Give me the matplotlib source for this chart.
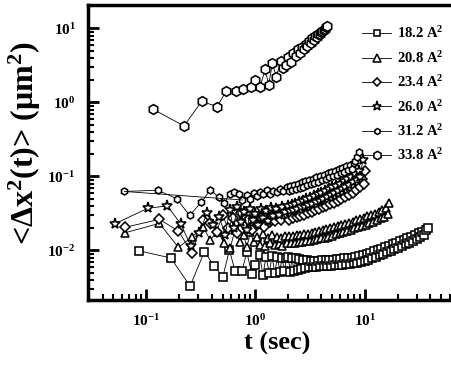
import numpy as np
import matplotlib
matplotlib.use('Agg')
import matplotlib.pyplot as plt
from matplotlib.ticker import LogLocator, NullFormatter

plt.rcParams['font.family'] = ['Liberation Serif', 'DejaVu Serif']
plt.rcParams['font.weight'] = 'bold'
plt.rcParams['mathtext.fontset'] = 'custom'
plt.rcParams['mathtext.rm'] = 'Liberation Serif:bold'
plt.rcParams['mathtext.bf'] = 'Liberation Serif:bold'
plt.rcParams['mathtext.it'] = 'Liberation Serif:bold:italic'
plt.rcParams['mathtext.default'] = 'bf'

# 18.2 A^2 (squares)
t182 = ([0.085, 0.168, 0.252, 0.341, 0.418, 0.503, 0.578, 0.652, 0.75, 0.834,
         0.926, 1.0, 1.09, 1.17, 1.25, 1.34, 1.42, 1.5, 1.59, 1.67, 1.75, 1.84, 1.92]
        + [2.0, 2.08, 2.16, 2.25, 2.34, 2.43, 2.53, 2.63, 2.74, 2.85,
           2.96, 3.08, 3.2, 3.33, 3.46, 3.6, 3.75, 3.9, 4.05, 4.2,
           4.4, 4.55, 4.75, 4.95, 5.15, 5.35, 5.55, 5.8, 6.0, 6.25,
           6.5, 6.75, 7.0, 7.3, 7.6, 7.9, 8.2, 8.55, 8.9, 9.25,
           9.6, 10.0, 10.4, 10.8, 11.2, 11.7, 12.2, 12.7, 13.2, 13.7,
           14.2, 14.8, 15.4, 16.0, 16.6, 17.3, 18.0, 18.7, 19.5, 20.3,
           21.1, 21.9, 22.8, 23.7, 24.6, 25.6, 26.6, 27.7, 28.8, 30.0,
           31.2, 32.4, 33.7, 35.0, 36.4, 37.6])
y182 = ([0.0099, 0.0079, 0.0033, 0.0096, 0.0062, 0.0044, 0.0101, 0.0052, 0.0052, 0.0094,
         0.0048, 0.0063, 0.0087, 0.0047, 0.0081, 0.0050, 0.0085, 0.0049, 0.0082, 0.0051,
         0.0080, 0.0052, 0.0079]
        + [0.0082, 0.0051, 0.0080, 0.0053, 0.0078, 0.0054, 0.0077, 0.0056, 0.0075, 0.0057,
           0.0074, 0.0059, 0.0073, 0.0060, 0.0073, 0.0060, 0.0073, 0.0061, 0.0074, 0.0061,
           0.0074, 0.0062, 0.0075, 0.0062, 0.0075, 0.0063, 0.0076, 0.0063, 0.0077, 0.0064,
           0.0078, 0.0065, 0.0079, 0.0066, 0.0080, 0.0067, 0.0082, 0.0068, 0.0084, 0.0070,
           0.0086, 0.0072, 0.0089, 0.0075, 0.0093, 0.0078, 0.0097, 0.0082, 0.0101, 0.0086,
           0.0105, 0.0090, 0.0110, 0.0094, 0.0115, 0.0099, 0.0121, 0.0104, 0.0127, 0.0109,
           0.0133, 0.0115, 0.0139, 0.0121, 0.0146, 0.0127, 0.0153, 0.0134, 0.0161, 0.0142,
           0.0170, 0.0151, 0.0180, 0.0161, 0.0190, 0.0198])

# 20.8 A^2 (triangles)
t208 = ([0.064, 0.132, 0.197, 0.26, 0.33, 0.385, 0.45, 0.52, 0.587, 0.65,
         0.72, 0.78, 0.834, 0.9, 0.97, 1.04, 1.1, 1.17, 1.23, 1.3,
         1.36, 1.43, 1.5, 1.56, 1.63, 1.7, 1.76]
        + [1.87, 1.95, 2.03, 2.11, 2.2, 2.29, 2.38, 2.48, 2.58, 2.68,
           2.79, 2.9, 3.02, 3.14, 3.27, 3.4, 3.54, 3.68, 3.83, 3.98,
           4.14, 4.3, 4.47, 4.65, 4.84, 5.03, 5.23, 5.44, 5.66, 5.89,
           6.12, 6.37, 6.62, 6.89, 7.16, 7.45, 7.75, 8.06, 8.38, 8.72,
           9.07, 9.43, 9.8, 10.2, 10.6, 11.0, 11.5, 11.9, 12.4, 12.9,
           13.4, 14.0, 14.5, 15.1, 15.7, 16.3, 16.8])
y208 = ([0.0173, 0.0232, 0.0110, 0.0150, 0.0210, 0.0138, 0.0180, 0.0125, 0.0107, 0.0190,
         0.0130, 0.0160, 0.0112, 0.0175, 0.0128, 0.0150, 0.0120, 0.0165, 0.0114, 0.0145,
         0.0125, 0.0160, 0.0118, 0.0150, 0.0122, 0.0145, 0.0114]
        + [0.0158, 0.0124, 0.0157, 0.0125, 0.0158, 0.0126, 0.0160, 0.0128, 0.0162, 0.0130,
           0.0165, 0.0132, 0.0168, 0.0135, 0.0172, 0.0138, 0.0176, 0.0141, 0.0181, 0.0145,
           0.0186, 0.0149, 0.0192, 0.0154, 0.0199, 0.0159, 0.0205, 0.0165, 0.0212, 0.0171,
           0.0220, 0.0177, 0.0228, 0.0184, 0.0236, 0.0191, 0.0245, 0.0198, 0.0255, 0.0206,
           0.0265, 0.0214, 0.0276, 0.0223, 0.0288, 0.0233, 0.0300, 0.0244, 0.0314, 0.0256,
           0.0330, 0.0270, 0.0348, 0.0287, 0.0370, 0.0310, 0.0440])

# 23.4 A^2 (diamonds)
t234 = ([0.064, 0.132, 0.197, 0.262, 0.33, 0.385, 0.44, 0.5, 0.56, 0.62,
         0.68, 0.74, 0.8, 0.86, 0.93, 1.0, 1.06, 1.13, 1.2, 1.27,
         1.35, 1.43, 1.52, 1.62, 1.72, 1.83]
        + [1.95, 2.03, 2.11, 2.2, 2.29, 2.38, 2.48, 2.58, 2.68, 2.79,
           2.9, 3.02, 3.14, 3.27, 3.4, 3.54, 3.68, 3.83, 3.98, 4.14,
           4.3, 4.47, 4.65, 4.84, 5.03, 5.23, 5.44, 5.66, 5.89, 6.12,
           6.37, 6.62, 6.89, 7.16, 7.45, 7.75, 8.06, 8.38, 8.72, 9.07,
           9.43, 9.8, 10.1])
y234 = ([0.0205, 0.0263, 0.0183, 0.0093, 0.026, 0.0233, 0.0178, 0.030, 0.020, 0.027,
         0.017, 0.032, 0.022, 0.026, 0.019, 0.029, 0.023, 0.027, 0.021, 0.028,
         0.024, 0.029, 0.025, 0.030, 0.026, 0.031]
        + [0.031, 0.026, 0.032, 0.027, 0.034, 0.028, 0.035, 0.029, 0.036, 0.030,
           0.038, 0.032, 0.039, 0.033, 0.041, 0.035, 0.043, 0.036, 0.045, 0.038,
           0.047, 0.040, 0.050, 0.042, 0.052, 0.044, 0.055, 0.046, 0.058, 0.049,
           0.062, 0.052, 0.066, 0.056, 0.071, 0.060, 0.077, 0.065, 0.084, 0.071,
           0.092, 0.080, 0.120])

# 26.0 A^2 (stars)
t260 = ([0.052, 0.103, 0.156, 0.208, 0.256, 0.307, 0.359, 0.41, 0.465, 0.528,
         0.58, 0.63, 0.68, 0.73, 0.79, 0.84, 0.9, 0.95, 1.0, 1.06,
         1.12, 1.18, 1.24, 1.3, 1.38, 1.46, 1.55, 1.65, 1.75, 1.86]
        + [1.98, 2.06, 2.14, 2.23, 2.32, 2.41, 2.51, 2.61, 2.71, 2.82,
           2.93, 3.05, 3.17, 3.3, 3.43, 3.57, 3.71, 3.86, 4.01, 4.17,
           4.34, 4.51, 4.69, 4.88, 5.07, 5.27, 5.48, 5.7, 5.93, 6.17,
           6.42, 6.67, 6.94, 7.22, 7.5, 7.8, 8.12, 8.44, 8.78, 9.13, 9.6])
y260 = ([0.023, 0.037, 0.040, 0.0226, 0.0114, 0.0173, 0.0316, 0.022, 0.0285, 0.0162,
         0.035, 0.020, 0.038, 0.024, 0.033, 0.019, 0.036, 0.026, 0.031, 0.022,
         0.036, 0.027, 0.034, 0.025, 0.037, 0.029, 0.036, 0.030, 0.038, 0.033]
        + [0.040, 0.034, 0.041, 0.035, 0.043, 0.036, 0.045, 0.038, 0.047, 0.039,
           0.049, 0.041, 0.051, 0.043, 0.054, 0.045, 0.057, 0.047, 0.060, 0.050,
           0.063, 0.053, 0.067, 0.056, 0.071, 0.059, 0.075, 0.063, 0.080, 0.067,
           0.086, 0.072, 0.092, 0.077, 0.099, 0.083, 0.108, 0.090, 0.118, 0.099, 0.168])

# 31.2 A^2 (small hexagons)
t312 = ([0.063, 0.128, 0.19, 0.25, 0.32, 0.385, 0.46, 0.52, 0.58, 0.63,
         0.7, 0.76, 0.83, 0.9, 0.96, 1.03, 1.1, 1.18, 1.27, 1.36,
         1.46, 1.57, 1.68, 1.8]
        + [1.93, 2.01, 2.09, 2.17, 2.26, 2.35, 2.44, 2.54, 2.64, 2.75,
           2.86, 2.97, 3.09, 3.21, 3.34, 3.47, 3.61, 3.75, 3.9, 4.06,
           4.22, 4.39, 4.57, 4.75, 4.94, 5.14, 5.34, 5.56, 5.78, 6.01,
           6.25, 6.5, 6.76, 7.03, 7.31, 7.6, 7.9, 8.22, 8.55, 8.8])
y312 = ([0.0626, 0.065, 0.050, 0.0297, 0.045, 0.065, 0.053, 0.044, 0.058, 0.062,
         0.058, 0.048, 0.056, 0.050, 0.059, 0.055, 0.061, 0.057, 0.065, 0.058,
         0.064, 0.062, 0.067, 0.064]
        + [0.073, 0.064, 0.075, 0.066, 0.077, 0.068, 0.080, 0.070, 0.083, 0.073,
           0.086, 0.076, 0.089, 0.079, 0.093, 0.082, 0.097, 0.085, 0.101, 0.089,
           0.105, 0.093, 0.110, 0.097, 0.115, 0.101, 0.120, 0.106, 0.125, 0.110,
           0.131, 0.115, 0.137, 0.121, 0.144, 0.127, 0.150, 0.160, 0.185, 0.212])

# 33.8 A^2 (large hexagons)
t338 = [0.115, 0.222, 0.323, 0.444, 0.54, 0.665, 0.776, 0.914, 1.0, 1.1, 1.23, 1.32, 1.43,
        1.55, 1.71, 1.78, 1.89, 2.0, 2.11, 2.22, 2.33, 2.44, 2.55, 2.66, 2.77, 2.88, 2.99,
        3.1, 3.21, 3.32, 3.43, 3.54, 3.65, 3.76, 3.87, 3.98, 4.09, 4.2, 4.31, 4.42, 4.49]
y338 = [0.81, 0.48, 1.04, 0.87, 1.42, 1.43, 1.5, 1.62, 2.0, 1.62, 2.8, 1.71, 3.37, 2.22,
        3.65, 2.88, 3.2, 4.1, 3.5, 4.6, 4.2, 5.2, 4.7, 5.6, 5.2, 6.2, 5.8, 6.8, 6.3, 7.3,
        6.9, 7.8, 7.6, 8.5, 8.3, 9.0, 9.2, 9.6, 9.9, 10.3, 10.8]

labels = ['18.2 A$^{2}$', '20.8 A$^{2}$', '23.4 A$^{2}$', '26.0 A$^{2}$',
          '31.2 A$^{2}$', '33.8 A$^{2}$']
series = [(t182, y182, 's', 5.5), (t208, y208, '^', 6.0), (t234, y234, 'D', 4.8),
          (t260, y260, '*', 8.0), (t312, y312, 'h', 5.0), (t338, y338, 'h', 7.0)]

fig = plt.figure(figsize=(4.52, 3.66), dpi=100)
ax = fig.add_axes([0.195, 0.18, 0.885, 0.806])

for (t, y, m, ms), lab in zip(series, labels):
    ax.plot(t, y, color='black', lw=0.6, marker=m, ms=ms, mfc='white', mec='black',
            mew=1.15, label=lab)

# stray connector seen in the original from the first 31.2 point
ax.plot([t312[0], t312[11]], [y312[0], y312[11]], color='black', lw=0.6)

ax.set_xscale('log')
ax.set_yscale('log')
ax.set_xlim(0.0294, 135)
ax.set_ylim(0.00213, 20.6)

ax.xaxis.set_minor_locator(LogLocator(base=10, subs=np.arange(2, 10), numticks=10))
ax.yaxis.set_minor_locator(LogLocator(base=10, subs=np.arange(2, 10), numticks=10))
ax.xaxis.set_minor_formatter(NullFormatter())
ax.yaxis.set_minor_formatter(NullFormatter())
ax.set_xticks([0.1, 1, 10])
ax.set_xticklabels(['10$^{-1}$', '10$^{0}$', '10$^{1}$'])
ax.set_yticks([0.01, 0.1, 1, 10])
ax.set_yticklabels(['10$^{-2}$', '10$^{-1}$', '10$^{0}$', '10$^{1}$'])

ax.tick_params(which='major', direction='in', length=8, width=2, labelsize=11, pad=9)
ax.tick_params(which='minor', direction='in', length=4, width=1.5)
ax.tick_params(top=False, right=False, which='both')
for s in ['left', 'bottom', 'top']:
    ax.spines[s].set_linewidth(2.5)
ax.spines['right'].set_visible(False)

fig.text(0.613, 0.045, 't (sec)', fontsize=19, fontweight='bold', ha='center')
fig.text(0.055, 0.61, '<Δx$^{2}$(t)> (μm$^{2}$)', fontsize=23, fontweight='bold',
         rotation=90, ha='center', va='center')

fig.legend(loc='upper left', bbox_to_anchor=(0.785, 0.95), frameon=False,
           fontsize=10.5, handlelength=2.0, handletextpad=0.4, labelspacing=0.58,
           borderpad=0, markerscale=0.85)

fig.savefig('out.png', dpi=100)
